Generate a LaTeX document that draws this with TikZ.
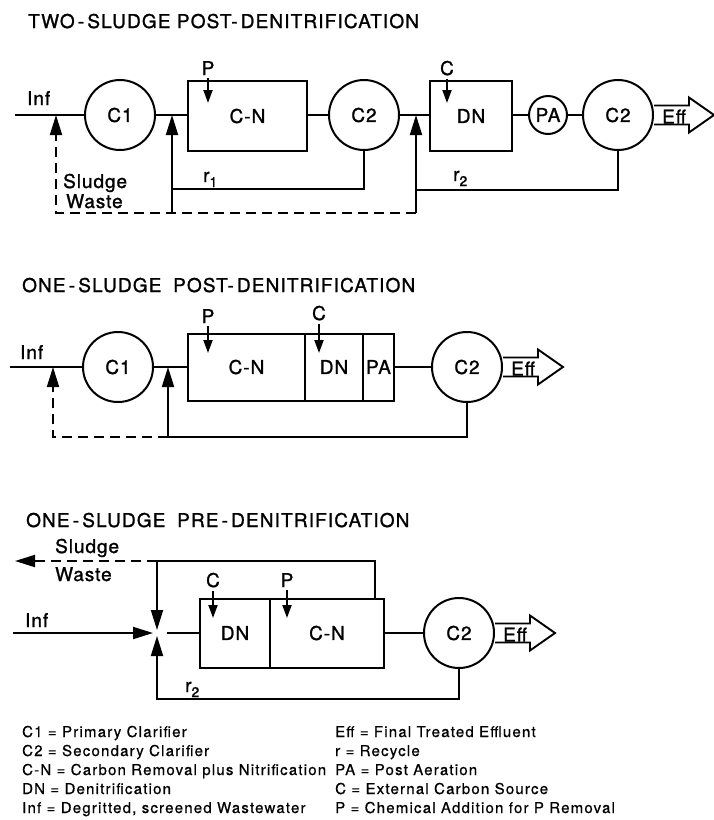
\documentclass[tikz,border=0pt]{standalone}
\usepackage{fontspec}
\setmainfont{TeX Gyre Heros}
\newfontfamily\myLblFont[LetterSpace=5,FakeBold=1.2]{TeX Gyre Heros}
\newfontfamily\myTtlFont[LetterSpace=6,FakeBold=1.2]{TeX Gyre Heros}
\newfontfamily\myLegFont[LetterSpace=8,FakeBold=0.7]{TeX Gyre Heros}
\usetikzlibrary{arrows.meta,calc}
\newcommand\myLbl{\myLblFont\fontsize{19}{21}\selectfont}
\newcommand\myTtl{\myTtlFont\fontsize{19}{21}\selectfont}
\newcommand\myLeg{\myLegFont\fontsize{15}{17}\selectfont}
\newcommand\myR[1]{r\raisebox{-5pt}{\fontsize{14}{14}\selectfont #1}}
\begin{document}
\begin{tikzpicture}[x=1pt,y=-1pt,
  unit/.style={draw, line width=2pt, inner sep=0pt, font=\myLbl},
  clar/.style={unit, circle, minimum size=70pt},
  smallclar/.style={unit, circle, minimum size=38pt},
  tank/.style={unit, rectangle, minimum height=70pt},
  flow/.style={line width=1.9pt},
  waste/.style={flow, dash pattern=on 10pt off 6pt},
  bigtip/.style={-{Triangle[length=20pt,width=12pt]}},
  smalltip/.style={-{Triangle[length=13pt,width=9pt]}},
  txt/.style={font=\myLbl, inner sep=0pt, anchor=base west},
  ctxt/.style={font=\myLbl, inner sep=0pt, anchor=base},
  ttl/.style={font=\myTtl, inner sep=0pt, anchor=base west},
  leg/.style={font=\myLeg, inner sep=0pt, anchor=base west},
  effarrow/.pic={
    \draw[line width=1.9pt] (0,-9.5) -- (35,-9.5) -- (35,-17.5) -- (60,0) -- (35,17.5) -- (35,9.5) -- (0,9.5);
    \node[txt] (-txt) at (8,8.5) {Eff};
  }]
\fill[white] (0,0) rectangle (714,820);
\useasboundingbox (0,0) rectangle (714,820);

% ---------------- TWO-SLUDGE ----------------
\node[ttl] (T1) at (28,28) {TWO\,-\,SLUDGE POST-\,DENITRIFICATION};
\node[clar] (C1a) at (120,115) {C1};
\node[tank, minimum width=119pt] (CN1) at (247.5,116) {C-N};
\node[clar] (C2a) at (364,115) {C2};
\node[tank, minimum width=82pt] (DN1) at (471,116) {DN};
\node[smallclar] (PA1) at (548,115) {PA};
\node[clar] (C2b) at (618,115) {C2};
\pic (E1) at (C2b.east) {effarrow};

\coordinate (I1) at (15,115);
\node[txt] (Inf1) at (27,105) {Inf};
\draw[flow] (I1) -- (C1a.west);
\draw[flow] (C1a.east) -- (CN1.west |- C1a.east);
\draw[flow] (CN1.east |- C2a.west) -- (C2a.west);
\draw[flow] (C2a.east) -- (DN1.west |- C2a.east);
\draw[flow] (DN1.east |- PA1.west) -- (PA1.west);
\draw[flow] (PA1.east) -- (C2b.west);

\node[ctxt] (P1) at (208,75) {P};
\coordinate (P1t) at (208,103);
\draw[flow, smalltip, shorten <=3pt] (P1.south) -- (P1t);
\node[ctxt] (Cx1) at (447,75) {C};
\coordinate (Cx1t) at (447,103);
\draw[flow, smalltip, shorten <=3pt] (Cx1.south) -- (Cx1t);

\coordinate (A0) at (56,115);
\coordinate (A1) at (172,115);
\coordinate (A2) at (416,115);
\coordinate (D0) at (56,213);
\coordinate (D1) at (172,213);
\coordinate (D2) at (416,213);
\coordinate (R1) at (172,189);
\coordinate (R2) at (416,190);
\draw[flow] (C2a.south) |- (R1);
\draw[flow] (C2b.south) |- (R2);
\draw[flow, bigtip] (D1) -- (A1);
\draw[flow, bigtip] (D2) -- (A2);
\draw[waste, bigtip] (D2) -- (D0) -- (A0);
\node[txt] (r1) at (203,182) {\myR{1}};
\node[txt] (r2a) at (453,181) {\myR{2}};
\node[txt] (SW1) at (63,188) {Sludge};
\node[txt] (SW2) at (66,208) {Waste};

% ---------------- ONE-SLUDGE POST ----------------
\node[ttl] (T2) at (22,292) {ONE\,-\,SLUDGE\; POST-\,DENITRIFICATION};
\node[clar] (C1d) at (118,367) {C1};
\node[tank, minimum width=117pt, minimum height=67pt] (CN2) at (246.5,367) {C-N};
\node[tank, minimum width=58pt, minimum height=67pt] (DN2) at (334,367) {DN};
\node[tank, minimum width=31pt, minimum height=67pt] (PA2) at (378.5,367) {PA};
\node[clar] (C2d) at (467,367) {C2};
\pic (E2) at (C2d.east) {effarrow};

\coordinate (I2) at (10,367);
\node[txt] (Inf2) at (20,359) {Inf};
\draw[flow] (I2) -- (C1d.west);
\draw[flow] (C1d.east) -- (CN2.west);
\draw[flow] (PA2.east) -- (C2d.west);

\node[ctxt] (P2) at (208,323) {P};
\coordinate (P2t) at (208,353);
\draw[flow, smalltip, shorten <=3pt] (P2.south) -- (P2t);
\node[ctxt] (Cx2) at (319,320) {C};
\coordinate (Cx2t) at (319,353);
\draw[flow, smalltip, shorten <=3pt] (Cx2.south) -- (Cx2t);

\coordinate (B0) at (53,367);
\coordinate (B1) at (168,367);
\coordinate (E0) at (53,437);
\coordinate (E1) at (168,437);
\draw[flow, bigtip] (C2d.south) |- (E1) -- (B1);
\draw[waste, bigtip] (E1) -- (E0) -- (B0);

% ---------------- ONE-SLUDGE PRE ----------------
\node[ttl] (T3) at (26,527) {ONE\,-\,SLUDGE\; PRE\,-\,DENITRIFICATION};
\node[tank, minimum width=70pt, minimum height=69pt] (DN3) at (235,633) {DN};
\node[tank, minimum width=114pt, minimum height=69pt] (CN3) at (327,633) {C-N};
\node[clar] (C2e) at (459,633) {C2};
\pic (E3) at (C2e.east) {effarrow};

\coordinate (J) at (157,633);
\coordinate (J1) at (167,633);
\coordinate (I3) at (13,633);
\coordinate (T) at (157,561);
\coordinate (W) at (15,561);
\coordinate (U) at (375,561);
\coordinate (R3) at (157,699);
\node[txt] (Inf3) at (25,627) {Inf};
\draw[flow, bigtip, shorten >=4pt] (I3) -- (J);
\draw[flow] (J1) -- (DN3.west);
\draw[flow] (CN3.east) -- (C2e.west);
\draw[flow, bigtip, shorten >=3pt] (CN3.north -| U) -- (U) -- (T) -- (J);
\draw[waste, bigtip] (T) -- (W);
\draw[flow, bigtip, shorten >=3pt] (C2e.south) |- (R3) -- (J);
\node[txt] (SW3) at (55,553) {Sludge};
\node[txt] (SW4) at (55,581) {Waste};
\node[txt] (r2b) at (185,692) {\myR{2}};

\node[ctxt] (Cx3) at (213,587) {C};
\coordinate (Cx3t) at (213,618);
\draw[flow, smalltip, shorten <=3pt] (Cx3.south) -- (Cx3t);
\node[ctxt] (P3) at (287,587) {P};
\coordinate (P3t) at (287,618);
\draw[flow, smalltip, shorten <=3pt] (P3.south) -- (P3t);

% ---------------- LEGEND ----------------
\node[leg] (L1) at (22,737) {C1 = Primary Clarifier};
\node[leg] (L2) at (22,756) {C2 = Secondary Clarifier};
\node[leg] (L3) at (22,775) {C-N = Carbon Removal plus Nitrification};
\node[leg] (L4) at (22,794) {DN = Denitrification};
\node[leg] (L5) at (22,813) {Inf = Degritted, screened Wastewater};
\node[leg] (M1) at (335,737) {Eff = Final Treated Effluent};
\node[leg] (M2) at (335,756) {r = Recycle};
\node[leg] (M3) at (335,775) {PA = Post Aeration};
\node[leg] (M4) at (335,794) {C = External Carbon Source};
\node[leg] (M5) at (335,813) {P = Chemical Addition for P Removal};
\end{tikzpicture}
\end{document}
